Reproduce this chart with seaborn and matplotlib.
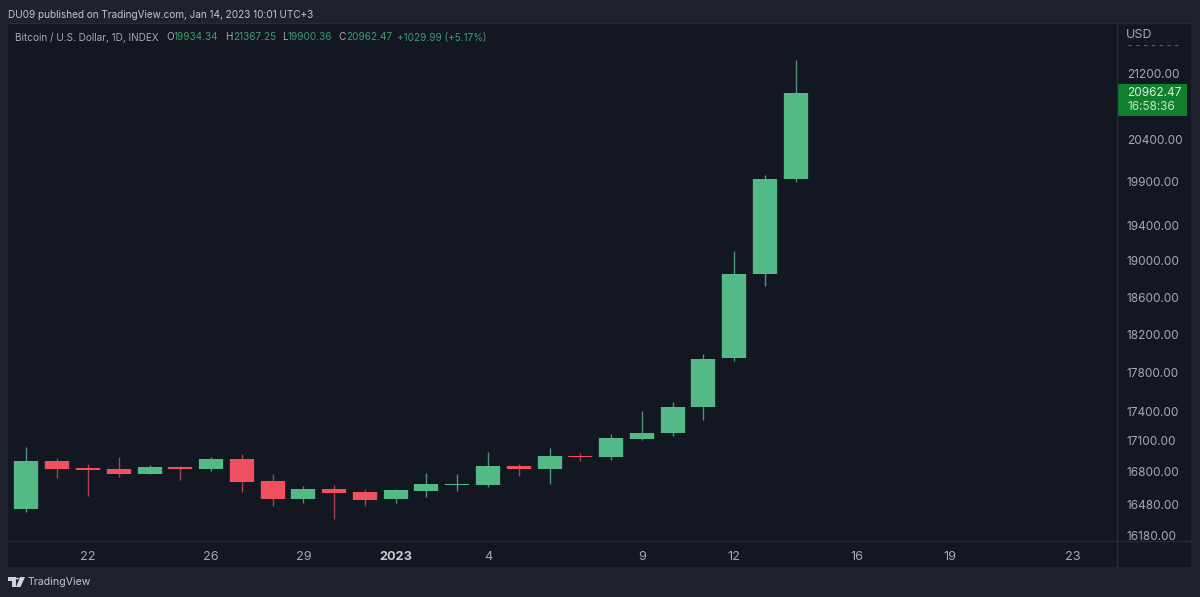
import numpy as np
import pandas as pd
import matplotlib.pyplot as plt
import seaborn as sns
from matplotlib.lines import Line2D
from matplotlib.patches import Polygon, Rectangle, Circle
from matplotlib.ticker import FixedLocator, FixedFormatter, NullLocator

# daily candles 20 Dec 2022 - 14 Jan 2023, index 0 is 20 Dec
days = list(range(26))
opens = [16436, 16901, 16835, 16819, 16776, 16845, 16825, 16921, 16702, 16533, 16630, 16598, 16527,
         16610, 16665, 16665, 16849, 16822, 16954, 16944, 17123, 17177, 17444, 17951, 18856, 19934.34]
closes = [16904, 16822, 16812, 16776, 16842, 16825, 16918, 16695, 16533, 16630, 16591, 16520, 16614,
          16673, 16675, 16852, 16822, 16954, 16941, 17127, 17180, 17444, 17941, 18856, 19934, 20962.47]
highs = [17043, 16928, 16872, 16938, 16865, 16852, 16938, 16971, 16770, 16656, 16663, 16630, 16624,
         16783, 16770, 16991, 16872, 17030, 16981, 17170, 17400, 17495, 17993, 19111, 19980, 21367.25]
lows = [16407, 16731, 16562, 16747, 16776, 16714, 16800, 16595, 16462, 16491, 16334, 16465, 16494,
        16552, 16604, 16649, 16754, 16675, 16904, 16914, 17113, 17150, 17312, 17920, 18724, 19900.36]

price_ticks = [16180, 16480, 16800, 17100, 17400, 17800, 18200, 18600, 19000, 19400, 19900, 20400, 21200]
time_ticks = [2, 6, 9, 12, 15, 20, 23, 27, 30, 34]
time_labels = ["22", "26", "29", "2023", "4", "9", "12", "16", "19", "23"]

UP = "#53b987"
DOWN = "#f0505f"
UP_WICK = "#4f9478"
DOWN_WICK = "#a8444f"
PANEL = "#131722"
OUTER = "#1e222d"
LINE = "#272b36"
TICK = "#a6a9b2"
W, H = 1200, 597

sns.set_theme(style="dark")
plt.rcParams["font.family"] = ["Inter", "DejaVu Sans"]
plt.rcParams["lines.solid_capstyle"] = "butt"

fig = plt.figure(figsize=(W / 100, H / 100), dpi=100, facecolor=OUTER)
ax = fig.add_axes([8 / W, 1 - 541 / H, 1109 / W, 518 / H], facecolor=PANEL)
ax.set_yscale("log")

direction = ["up" if c >= o else "down" for o, c in zip(opens, closes)]
wicks = pd.DataFrame({
    "day": days * 2,
    "price": lows + highs,
    "dir": direction * 2,
})
bodies = pd.DataFrame({
    "day": days * 2,
    "price": opens + closes,
    "dir": direction * 2,
})

sns.lineplot(data=wicks, x="day", y="price", units="day", hue="dir", estimator=None, sort=False,
             palette={"up": UP_WICK, "down": DOWN_WICK}, linewidth=1.0, legend=False, ax=ax)
sns.lineplot(data=bodies, x="day", y="price", units="day", hue="dir", estimator=None, sort=False,
             palette={"up": UP, "down": DOWN}, linewidth=17.5, legend=False, ax=ax)

ax.set_xlim(-0.6, 35.44)
ax.set_ylim(16128, 21838)
ax.set_xlabel("")
ax.set_ylabel("")
ax.grid(False)
for s in ax.spines.values():
    s.set_visible(False)

ax.yaxis.tick_right()
ax.yaxis.set_major_locator(FixedLocator(price_ticks))
ax.yaxis.set_major_formatter(FixedFormatter([f"{p}.00" for p in price_ticks]))
ax.yaxis.set_minor_locator(NullLocator())
ax.tick_params(axis="y", which="both", length=0, pad=7, labelsize=8.5, labelcolor=TICK)
ax.set_xticks(time_ticks)
ax.set_xticklabels(time_labels)
ax.tick_params(axis="x", length=0, pad=7, labelsize=9.2, labelcolor=TICK)
ax.get_xticklabels()[3].set_fontweight("bold")
ax.get_xticklabels()[3].set_color("#c8cad1")


def box(x0, y0, x1, y1, color, z=1):
    fig.add_artist(Rectangle((x0 / W, 1 - y1 / H), (x1 - x0) / W, (y1 - y0) / H, transform=fig.transFigure,
                             facecolor=color, edgecolor="none", zorder=z))


def label(x, y, s, color, size, ha="left", z=5):
    return fig.text(x / W, 1 - y / H, s, color=color, fontsize=size, ha=ha, va="center", zorder=z)


def rule(x0, y0, x1, y1):
    fig.add_artist(Line2D([x0 / W, x1 / W], [1 - y0 / H, 1 - y1 / H], color=LINE, linewidth=1, zorder=4))


# chart panel, time axis and price axis
box(8, 23, 1191, 567, PANEL, z=-1)
rule(8, 541, 1191, 541)
rule(1117, 23, 1117, 567)
rule(8, 23, 1191, 23)

# what is left of the price label hidden under the USD header
fig.add_artist(Line2D([1128 / W, 1181 / W], [1 - 45 / H, 1 - 45 / H], color="#5a5e69", linewidth=0.8,
                      linestyle=(0, (3, 4)), zorder=4))
label(1126, 35, "USD", TICK, 9)

# last price tag
box(1117, 84, 1187, 116, "#10802e", z=3)
label(1127, 93, "20962.47", "#dfeee3", 8.5)
label(1127, 107, "16:58:36", "#c9e3d0", 8.5)

# header
label(8, 15, "DU09 published on TradingView.com, Jan 14, 2023 10:01 UTC+3", "#c3c6ce", 7.2)
label(15, 37.5, "Bitcoin / U.S. Dollar, 1D, INDEX", "#a6a9b2", 7.2)
ohlc = [(166, "O", "19934.34"), (225, "H", "21367.25"), (282, "L", "19900.36"), (338, "C", "20962.47")]
offsets = {"O": 8, "H": 8, "L": 6, "C": 8}
for x, k, v in ohlc:
    label(x, 37.5, k, "#a6a9b2", 7.2)
    label(x + offsets[k], 37.5, v, "#3f9a70", 7.2)
label(397, 37.5, "+1029.99 (+5.17%)", "#3f9a70", 7.2)

# TradingView logo
logo = "#d1d4dc"
fig.add_artist(Polygon([(p[0] / W, 1 - p[1] / H) for p in
                        [(8, 577), (15.5, 577), (15.5, 587), (11.5, 587), (11.5, 580.5), (8, 580.5)]],
                       transform=fig.transFigure, facecolor=logo, edgecolor="none"))
fig.add_artist(Polygon([(p[0] / W, 1 - p[1] / H) for p in
                        [(20, 577), (25, 577), (20.5, 587), (16, 587)]],
                       transform=fig.transFigure, facecolor=logo, edgecolor="none"))
fig.add_artist(Circle((17.2 / W, 1 - 578.6 / H), 1.7 / W, transform=fig.transFigure, facecolor=logo, edgecolor="none"))
label(28, 582, "TradingView", "#c3c6ce", 7.6)

fig.savefig("out.png", dpi=100, facecolor=OUTER)
